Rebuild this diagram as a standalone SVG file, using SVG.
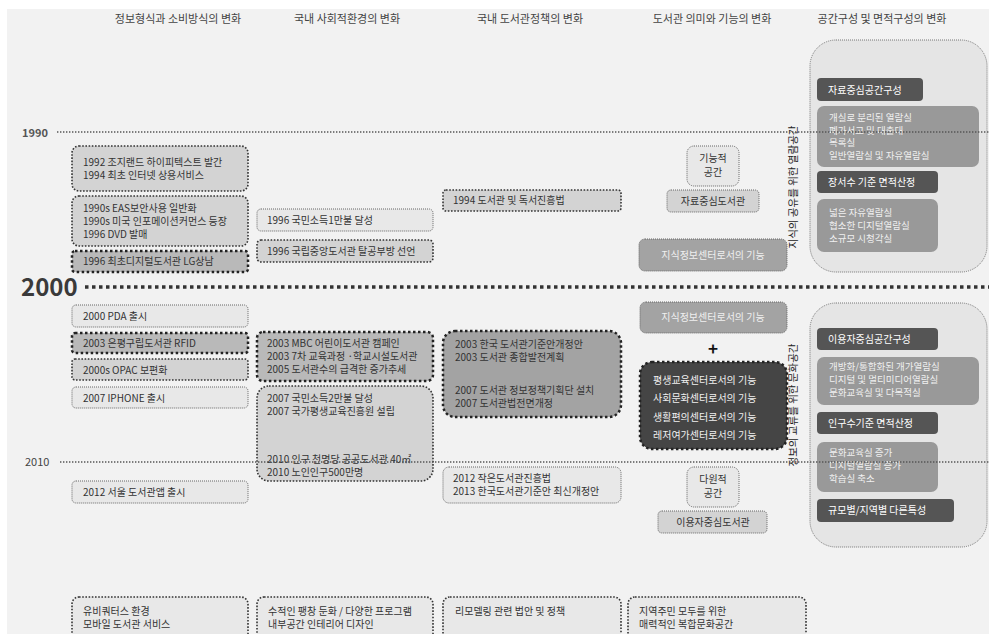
<svg xmlns="http://www.w3.org/2000/svg" width="989" height="634" viewBox="0 0 989 634">
<defs>
<style>
text{font-family:"Noto Sans CJK KR","Noto Sans",sans-serif;font-size:10px;fill:#333}
.hd{font-size:11px;fill:#444}
.yr{font-size:11px;fill:#555;font-weight:bold}
.big{font-size:24px;fill:#3a3a3a;font-weight:bold}
.w{fill:#fff}
.lw{fill:#f0f0f0}
.sm{font-size:9.5px}
.c{text-anchor:middle}
.thin{stroke:#666;stroke-width:1;stroke-dasharray:1 1}
.med{stroke:#333;stroke-width:1.6;stroke-dasharray:1.6 1.6}
.thk{stroke:#222;stroke-width:2.5;stroke-dasharray:2.5 2.5}
.f1{fill:#e8e8e8}
.f2{fill:#d3d3d3}
.f3{fill:#b9b9b9}
.f4{fill:#a3a3a3}
.dk{fill:#555}
.dk2{fill:#454545}
.gr{fill:#999}
.cont{fill:#e5e5e5;stroke:#777;stroke-width:1;stroke-dasharray:1 1}
</style>
</defs>
<rect x="0" y="0" width="989" height="634" fill="#ffffff"/>
<rect x="7" y="9" width="982" height="625" fill="#f2f2f2"/>

<g id="headers">
<text class="hd c" x="178" y="23">정보형식과 소비방식의 변화</text>
<text class="hd c" x="347" y="23">국내 사회적환경의 변화</text>
<text class="hd c" x="530" y="23">국내 도서관정책의 변화</text>
<text class="hd c" x="712" y="23">도서관 의미와 기능의 변화</text>
<text class="hd c" x="882" y="23">공간구성 및 면적구성의 변화</text>
</g>

<g id="space1">
<rect class="cont" x="810" y="40" width="177" height="232" rx="26"/>
<g id="s1a"><rect class="dk" x="817" y="78" width="106" height="23" rx="4"/><text class="w" x="828" y="94">자료중심공간구성</text></g>
<g id="s1b"><rect class="gr" x="817" y="106" width="162" height="61" rx="7"/>
<text class="lw sm" x="829" y="121">개실로 분리된 열람실</text>
<text class="lw sm" x="829" y="133.5">폐가서고 및 대출대</text>
<text class="lw sm" x="829" y="146">목록실</text>
<text class="lw sm" x="829" y="158.5">일반열람실 및 자유열람실</text></g>
<g id="s1c"><rect class="dk" x="817" y="171" width="121" height="22" rx="4"/><text class="w" x="828" y="186">장서수 기준 면적산정</text></g>
<g id="s1d"><rect class="gr" x="817" y="199" width="121" height="53" rx="7"/>
<text class="lw sm" x="829" y="216">넓은 자유열람실</text>
<text class="lw sm" x="829" y="229">협소한 디지털열람실</text>
<text class="lw sm" x="829" y="242">소규모 시청각실</text></g>
</g>
<text id="vt1" x="0" y="0" transform="translate(797,187) rotate(-90)" class="c" style="font-size:10.5px;fill:#222">지식의 공유를 위한 열람공간</text>

<g id="space2">
<rect class="cont" x="810" y="303" width="177" height="244" rx="26"/>
<g id="s2a"><rect class="dk" x="817" y="328" width="121" height="22" rx="4"/><text class="w" x="828" y="343">이용자중심공간구성</text></g>
<g id="s2b"><rect class="gr" x="817" y="357" width="162" height="48" rx="7"/>
<text class="lw sm" x="829" y="370">개방화/통합화된 개가열람실</text>
<text class="lw sm" x="829" y="383">디지털 및 멀티미디어열람실</text>
<text class="lw sm" x="829" y="396">문화교육실 및 다목적실</text></g>
<g id="s2c"><rect class="dk" x="817" y="412" width="121" height="22" rx="4"/><text class="w" x="828" y="427">인구수기준 면적산정</text></g>
<g id="s2d"><rect class="gr" x="817" y="442" width="121" height="50" rx="7"/>
<text class="lw sm" x="829" y="456">문화교육실 증가</text>
<text class="lw sm" x="829" y="469">디지털열람실 증가</text>
<text class="lw sm" x="829" y="482">학습실 축소</text></g>
<g id="s2e"><rect class="dk" x="817" y="499" width="137" height="23" rx="4"/><text class="w" x="828" y="514">규모별/지역별 다른특성</text></g>
</g>
<text id="vt2" x="0" y="0" transform="translate(797,405) rotate(-90)" class="c" style="font-size:10.5px;fill:#222">정보의 교류를 위한 문화공간</text>

<g id="c1a"><rect class="f2 med" x="72" y="146" width="176" height="45" rx="7"/>
<text x="83" y="166">1992 조지랜드 하이피텍스트 발간</text><text x="83" y="179">1994 최초 인터넷 상용서비스</text></g>
<g id="c1b"><rect class="f2 med" x="72" y="196" width="176" height="50" rx="7"/>
<text x="83" y="212">1990s EAS보안사용 일반화</text><text x="83" y="225">1990s 미국 인포메이션커먼스 등장</text><text x="83" y="238">1996 DVD 발매</text></g>
<g id="c1c"><rect class="f3 thk" x="72" y="251" width="176" height="21" rx="3"/>
<text x="83" y="265">1996 최초디지털도서관 LG상남</text></g>

<g id="c2a"><rect class="f1 thin" x="257" y="209" width="176" height="22" rx="4"/><text x="267" y="224">1996 국민소득1만불 달성</text></g>
<g id="c2b"><rect class="f2 med" x="257" y="240" width="176" height="22" rx="4"/><text x="267" y="255">1996 국립중앙도서관 탈공부방 선언</text></g>

<g id="c3a"><rect class="f2 med" x="443" y="190" width="178" height="21" rx="3"/><text x="453" y="204">1994 도서관 및 독서진흥법</text></g>

<g id="c4a"><rect class="f1 thin" x="687" y="146" width="52" height="40" rx="7"/><text class="c" x="713" y="162">기능적</text><text class="c" x="713" y="176">공간</text></g>
<g id="c4b"><rect class="f2 thin" x="667" y="190" width="92" height="22" rx="4"/><text class="c" x="713" y="205">자료중심도서관</text></g>
<g id="c4c"><rect class="f4 thin" x="639" y="239" width="148" height="32" rx="6"/><text class="lw c" x="713" y="259">지식정보센터로서의 기능</text></g>

<g id="d1a"><rect class="f1 thin" x="72" y="305" width="176" height="22" rx="4"/><text x="83" y="320">2000 PDA 출시</text></g>
<g id="d1b"><rect class="f3 thk" x="72" y="333" width="176" height="20" rx="3"/><text x="83" y="347">2003 은평구립도서관 RFID</text></g>
<g id="d1c"><rect class="f2 med" x="72" y="359" width="176" height="21" rx="3"/><text x="83" y="374">2000s OPAC 보편화</text></g>
<g id="d1d"><rect class="f1 thin" x="72" y="387" width="176" height="21" rx="4"/><text x="83" y="402">2007 IPHONE 출시</text></g>
<g id="d1e"><rect class="f1 thin" x="72" y="481" width="176" height="22" rx="4"/><text x="83" y="496">2012 서울 도서관앱 출시</text></g>

<g id="d2a"><rect class="f3 thk" x="257" y="332" width="176" height="49" rx="6"/>
<text x="267" y="347">2003 MBC 어린이도서관 캠페인</text><text x="267" y="360">2003 7차 교육과정 ·학교시설도서관</text><text x="267" y="373">2005 도서관수의 급격한 증가추세</text></g>
<g id="d2b"><rect class="f2 med" x="257" y="386" width="176" height="95" rx="12"/>
<text x="267" y="402">2007 국민소득2만불 달성</text><text x="267" y="415">2007 국가평생교육진흥원 설립</text>
<text x="267" y="463">2010 인구 천명당 공공도서관 40㎡</text><text x="267" y="476">2010 노인인구500만명</text></g>

<g id="d3a"><rect class="f4 thk" x="443" y="331" width="178" height="86" rx="12"/>
<text x="455" y="348">2003 한국 도서관기준안개정안</text><text x="455" y="361">2003 도서관 종합발전계획</text>
<text x="455" y="394">2007 도서관 정보정책기획단 설치</text><text x="455" y="407">2007 도서관법전면개정</text></g>
<g id="d3b"><rect class="f1 thin" x="443" y="467" width="178" height="36" rx="6"/>
<text x="453" y="482">2012 작은도서관진흥법</text><text x="453" y="495">2013 한국도서관기준안 최신개정안</text></g>

<g id="d4a"><rect class="f4 thin" x="640" y="302" width="147" height="31" rx="6"/><text class="lw c" x="713" y="321">지식정보센터로서의 기능</text></g>
<text id="plus" class="c" x="713" y="355" style="font-size:17px;font-weight:bold;fill:#111">+</text>
<g id="d4b"><rect class="dk2 thk" x="640" y="362" width="147" height="87" rx="12"/>
<text class="lw" x="653" y="384">평생교육센터로서의 기능</text><text class="lw" x="653" y="402">사회문화센터로서의 기능</text>
<text class="lw" x="653" y="421">생활편의센터로서의 기능</text><text class="lw" x="653" y="439">레저여가센터로서의 기능</text></g>
<g id="d4c"><rect class="f1 thin" x="687" y="467" width="52" height="40" rx="7"/><text class="c" x="713" y="483">다원적</text><text class="c" x="713" y="497">공간</text></g>
<g id="d4d"><rect class="f2 thin" x="658" y="511" width="109" height="22" rx="4"/><text class="c" x="713" y="526">이용자중심도서관</text></g>

<g id="e1"><rect class="f1 med" x="72" y="597" width="176" height="50" rx="7"/><text x="83" y="615">유비쿼터스 환경</text><text x="83" y="628">모바일 도서관 서비스</text></g>
<g id="e2"><rect class="f1 med" x="257" y="597" width="176" height="50" rx="7"/><text x="268" y="615">수적인 팽창 둔화 / 다양한 프로그램</text><text x="268" y="628">내부공간 인테리어 디자인</text></g>
<g id="e3"><rect class="f1 med" x="443" y="597" width="178" height="50" rx="7"/><text x="455" y="615">리모델링 관련 법안 및 정책</text></g>
<g id="e4"><rect class="f1 med" x="628" y="597" width="178" height="50" rx="7"/><text x="639" y="615">지역주민 모두를 위한</text><text x="639" y="628">매력적인 복합문화공간</text></g>

<g id="connectors">
<text class="yr" x="22" y="137">1990</text>
<line x1="57" y1="132" x2="989" y2="132" stroke="#555" stroke-width="1.4" stroke-dasharray="1.4 1.6"/>
<text class="big" x="21" y="296">2000</text>
<line x1="85" y1="287" x2="989" y2="287" stroke="#333" stroke-width="3.5" stroke-dasharray="3.5 3.5"/>
<text class="yr" x="25" y="466" style="font-weight:normal;fill:#444">2010</text>
<line x1="60" y1="462" x2="989" y2="462" stroke="#555" stroke-width="1.4" stroke-dasharray="1.4 1.6"/>
</g>
</svg>
